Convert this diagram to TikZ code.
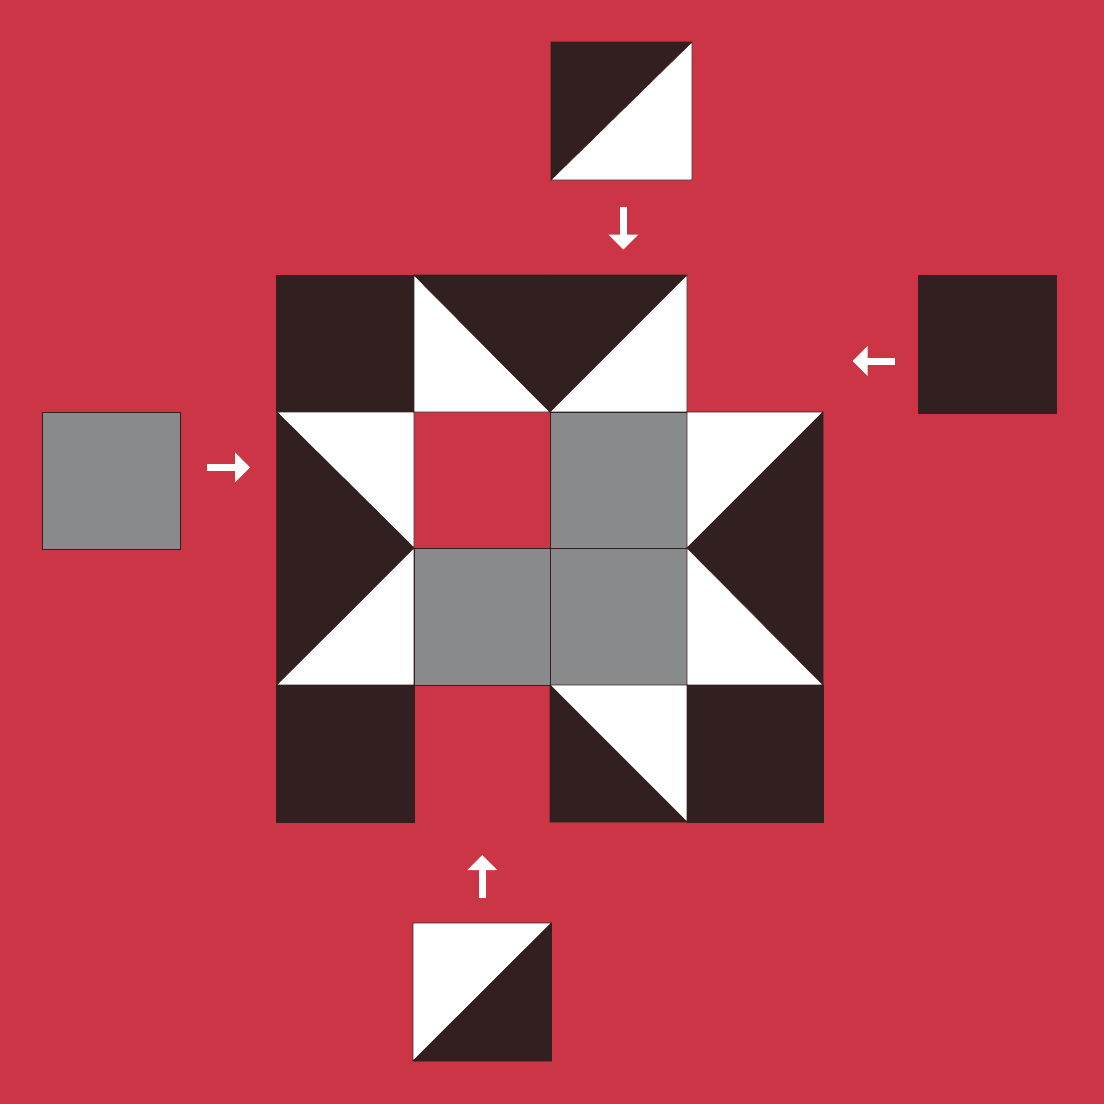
\documentclass[tikz,border=0pt]{standalone}
\usetikzlibrary{arrows.meta}
\definecolor{bgred}{RGB}{203,53,70}
\definecolor{darkpc}{RGB}{50,31,31}
\definecolor{graypc}{RGB}{137,138,140}
\definecolor{edgec}{RGB}{50,31,31}
\begin{document}
\begin{tikzpicture}[x=1pt,y=-1pt,
  dk/.style={fill=darkpc,draw=edgec,line width=0.6pt,line join=round},
  wt/.style={fill=white,draw=edgec,line width=0.6pt,line join=round},
  gr/.style={fill=graypc,draw=edgec,line width=0.6pt,line join=round},
  arr/.style={draw=white,line width=7pt,-{Triangle[length=15pt,width=29pt]}}]
\fill[bgred] (0,0) rectangle (1104,1104);
\useasboundingbox (0,0) rectangle (1104,1104);
\def\xa{276.7}\def\xb{414}\def\xc{550}\def\xd{687}\def\xe{823}
\def\ya{275}\def\yb{412}\def\yc{548}\def\yd{685}\def\ye{822}
% row 0
\draw[dk] (\xa,\ya) rectangle (\xb,\yb);
\draw[wt] (\xb,\ya) -- (\xb,\yb) -- (\xc,\yb) -- cycle;
\draw[dk] (\xb,\ya) -- (\xc,\ya) -- (\xc,\yb) -- cycle;
\draw[dk] (\xc,\ya) -- (\xd,\ya) -- (\xc,\yb) -- cycle;
\draw[wt] (\xd,\ya) -- (\xd,\yb) -- (\xc,\yb) -- cycle;
% row 1
\draw[wt] (\xa,\yb) -- (\xb,\yb) -- (\xb,\yc) -- cycle;
\draw[dk] (\xa,\yb) -- (\xa,\yc) -- (\xb,\yc) -- cycle;
\draw[gr] (\xc,\yb) rectangle (\xd,\yc);
\draw[wt] (\xd,\yb) -- (\xe,\yb) -- (\xd,\yc) -- cycle;
\draw[dk] (\xe,\yb) -- (\xe,\yc) -- (\xd,\yc) -- cycle;
% row 2
\draw[dk] (\xa,\yc) -- (\xb,\yc) -- (\xa,\yd) -- cycle;
\draw[wt] (\xb,\yc) -- (\xb,\yd) -- (\xa,\yd) -- cycle;
\draw[gr] (\xb,\yc) rectangle (\xc,\yd);
\draw[gr] (\xc,\yc) rectangle (\xd,\yd);
\draw[dk] (\xd,\yc) -- (\xe,\yc) -- (\xe,\yd) -- cycle;
\draw[wt] (\xd,\yc) -- (\xd,\yd) -- (\xe,\yd) -- cycle;
% row 3
\draw[dk] (\xa,\yd) rectangle (\xb,\ye);
\draw[wt] (\xc,\yd) -- (\xd,\yd) -- (\xd,\ye) -- cycle;
\draw[dk] (\xc,\yd) -- (\xc,\ye) -- (\xd,\ye) -- cycle;
\draw[dk] (\xd,\yd) rectangle (\xe,\ye);
% loose pieces
\draw[dk] (551,42) -- (692,42) -- (551,180) -- cycle;
\draw[wt] (692,42) -- (692,180) -- (551,180) -- cycle;
\draw[dk] (918,275) rectangle (1056,413);
\draw[gr] (42,412) rectangle (180,549);
\draw[wt] (413,923) -- (551.5,923) -- (413,1061) -- cycle;
\draw[dk] (551.5,923) -- (551.5,1061) -- (413,1061) -- cycle;
% arrows
\coordinate (da) at (623.3,206.5); \coordinate (db) at (623.3,249.5);
\coordinate (la) at (895,361); \coordinate (lb) at (852.5,361);
\coordinate (ra) at (207,467.3); \coordinate (rb) at (250,467.3);
\coordinate (ua) at (482.3,897.5); \coordinate (ub) at (482.3,855);
\draw[arr] (da) -- (db);
\draw[arr] (la) -- (lb);
\draw[arr] (ra) -- (rb);
\draw[arr] (ua) -- (ub);
\end{tikzpicture}
\end{document}
